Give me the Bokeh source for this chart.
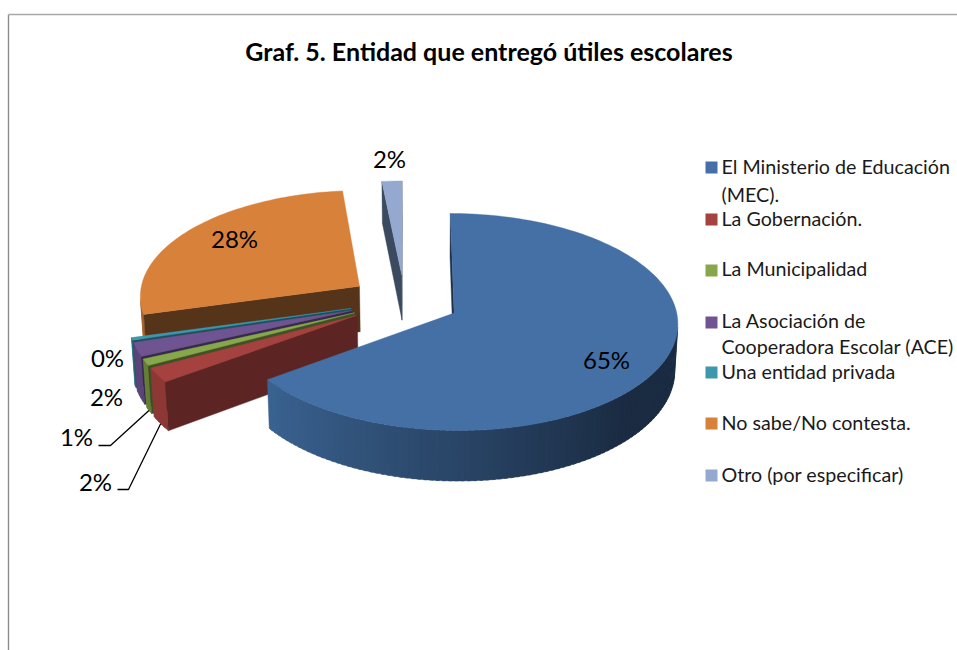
import math
import numpy as np
from bokeh.embed import file_html
from bokeh.resources import INLINE
from bokeh.plotting import figure
from bokeh.models import ColumnDataSource, Range1d
from bokeh.core.properties import value

title = "Graf. 5. Entidad que entregó útiles escolares"
categories = ["El Ministerio de Educación (MEC).", "La Gobernación.", "La Municipalidad",
              "La Asociación de Cooperadora Escolar (ACE)", "Una entidad privada",
              "No sabe/No contesta.", "Otro (por especificar)"]
values = [65.0, 2.2, 1.0, 2.1, 0.4, 27.7, 1.6]
pct_labels = ["65%", "2%", "1%", "2%", "0%", "28%", "2%"]
top_colors = ["#4470a6", "#a5413e", "#87a74b", "#6f5491", "#3d97ad", "#d8813b", "#94a8d0"]
rim_colors = ["#3a6290", "#8e3836", "#647f36", "#5b4578", "#2f7a8c", "#a8632c", "#6d80a5"]
wall_colors = ["#1d3048", "#5c2422", "#3e5024", "#362a49", "#1c4f5c", "#56341a", "#3c4a60"]
rim_dark = "#1a2b42"
legend_lines = [["El Ministerio de Educación", "(MEC)."], ["La Gobernación."], ["La Municipalidad"],
                ["La Asociación de", "Cooperadora Escolar (ACE)"], ["Una entidad privada"],
                ["No sabe/No contesta."], ["Otro (por especificar)"]]

# layout
X0, Y0, RX, RY, K, DEPTH, EXPLODE = 404.0, 300.5, 220.6, 105.8, 0.081, 46.0, 0.25
BOTTOM_SCALE, BOTTOM_XC = 0.988, 420.0
FONT = "Lato"
TXT = "#000000"

def project(u, v, lower=False):
    s = 1.0 / (1.0 - K * v)
    x = X0 + RX * u * s
    y = Y0 + RY * v * s
    if lower:
        x = BOTTOM_XC + (x - BOTTOM_XC) * BOTTOM_SCALE
        y = y + DEPTH * s
    return x, y

def hexmix(a, b, t):
    ca = [int(a[i:i + 2], 16) for i in (1, 3, 5)]
    cb = [int(b[i:i + 2], 16) for i in (1, 3, 5)]
    return "#%02x%02x%02x" % tuple(round(p + (q - p) * t) for p, q in zip(ca, cb))

def area(pts):
    return 0.5 * sum(pts[i][0] * pts[(i + 1) % len(pts)][1] - pts[(i + 1) % len(pts)][0] * pts[i][1]
                     for i in range(len(pts)))

total = sum(values)
edges = np.concatenate([[0.0], np.cumsum(values)]) / total * 360.0
polys = {"xs": [], "ys": [], "c": []}

def add(pts, color):
    polys["xs"].append([q[0] for q in pts])
    polys["ys"].append([q[1] for q in pts])
    polys["c"].append(color)

slices = []
for i in range(len(values)):
    a, b = edges[i], edges[i + 1]
    mid = math.radians((a + b) / 2)
    ox, oy = EXPLODE * math.sin(mid), -EXPLODE * math.cos(mid)
    slices.append((a, b, ox, oy))

def rim(ox, oy, deg, lower=False):
    t = math.radians(deg)
    return project(ox + math.sin(t), oy - math.cos(t), lower)

order = [6, 5, 4, 3, 2, 1, 0]
for i in order:
    a, b, ox, oy = slices[i]
    n = max(3, int((b - a) / 1.5))
    ang = np.linspace(a, b, n + 1)
    # outer rim, only the parts facing the viewer
    for d0, d1 in zip(ang[:-1], ang[1:]):
        d1x = min(b, d1 + 0.8)
        q = [rim(ox, oy, d0), rim(ox, oy, d1x), rim(ox, oy, d1x, True), rim(ox, oy, d0, True)]
        if area(q) > 0:
            continue
        m = (d0 + d1) / 2
        shade = min(1.0, max(0.0, (m - 135) / (232 - 135)))
        add(q, hexmix(rim_dark, rim_colors[i], shade) if i == 0 else rim_colors[i])
    # radial walls
    apex, apex_low = project(ox, oy), project(ox, oy, True)
    q = [apex, rim(ox, oy, a), rim(ox, oy, a, True), apex_low]
    if area(q) < 0:
        add(q, wall_colors[i])
    q = [apex, rim(ox, oy, b), rim(ox, oy, b, True), apex_low]
    if area(q) > 0:
        add(q, wall_colors[i])
    # top face
    add([apex] + [rim(ox, oy, d) for d in ang], top_colors[i])

p = figure(width=957, height=650, output_backend="svg", toolbar_location=None,
           x_range=Range1d(0, 957), y_range=Range1d(650, 0), min_border=0,
           outline_line_color=None, background_fill_color="#ffffff", border_fill_color="#ffffff")
p.axis.visible = False
p.grid.visible = False

# chart frame
p.line([8, 8], [650, 14], line_color="#8c8c8c", line_width=1.4)
p.line([8, 957], [14, 14], line_color="#a8a8a8", line_width=1.4)

src = ColumnDataSource(polys)
p.patches("xs", "ys", source=src, fill_color="c", line_color="c", line_width=0.4)

# leader lines for the two smallest front labels
for i, (lx0, lx1, ly) in {2: (98, 110, 445), 1: (117, 128, 489)}.items():
    a, b, ox, oy = slices[i]
    ex, ey = rim(ox, oy, (a + b) / 2, True)
    p.line([lx0, lx1, ex], [ly, ly, ey], line_color="#000000", line_width=1.3)

# data labels
lab_pos = [(606, 359), (95, 481), (76, 436), (106, 396), (107, 357), (234, 238), (389, 158)]
p.text([q[0] for q in lab_pos], [q[1] for q in lab_pos], text=pct_labels, text_align="center",
       text_baseline="middle", text_font=value(FONT), text_font_size="24px", text_color=TXT)

# title
p.text([488.5], [50], text=[title], text_align="center", text_baseline="middle",
       text_font=value(FONT), text_font_style="bold", text_font_size="25px", text_color=TXT)

# legend
leg_y = [[166, 194], [218], [268], [320, 346], [371], [422], [474]]
sq_y = [167, 219, 270, 322, 372, 423, 475]
p.rect([711] * 7, sq_y, width=12, height=12, fill_color=top_colors, line_color=None)
lx, ly, lt = [], [], []
for lines, ys in zip(legend_lines, leg_y):
    for s, y in zip(lines, ys):
        lx.append(721); ly.append(y); lt.append(s)
p.text(lx, ly, text=lt, text_align="left", text_baseline="middle", text_font=value(FONT),
       text_font_size="19.7px", text_color="#1a1a1a")

open("out.html", "w").write(file_html(p, INLINE))
